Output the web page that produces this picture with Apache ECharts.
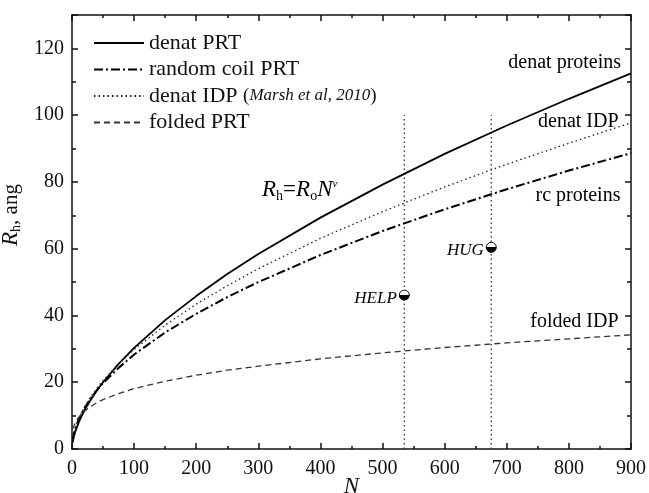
<!DOCTYPE html>
<html>
<head>
<meta charset="utf-8">
<script src="https://cdn.jsdelivr.net/npm/echarts@6/dist/echarts.min.js"></script>
<style>
  html, body { margin: 0; padding: 0; background: #fff; }
  #chart { width: 649px; height: 493px; }
</style>
</head>
<body>
<div id="chart"></div>
<script>
// chain length N
const nValues = [1, 3, 5, 10, 15, 20, 30, 40, 50, 75, 100, 150, 200, 250, 300, 400, 500, 600, 700, 800, 900];
// Rh in angstrom
const denatPRT = [1.9, 3.7, 5.0, 7.6, 9.7, 11.6, 14.7, 17.5, 20.0, 25.5, 30.3, 38.6, 45.8, 52.4, 58.4, 69.3, 79.2, 88.4, 96.9, 104.9, 112.5];
const rcPRT = [2.6, 4.6, 6.0, 8.5, 10.5, 12.2, 15.1, 17.6, 19.7, 24.3, 28.3, 34.9, 40.5, 45.5, 50.0, 58.1, 65.3, 71.8, 77.8, 83.4, 88.6];
const denatIDP = [2.5, 4.5, 5.9, 8.6, 10.7, 12.5, 15.6, 18.2, 20.5, 25.5, 29.8, 37.1, 43.4, 48.9, 54.0, 63.1, 71.1, 78.5, 85.3, 91.6, 97.7];
const foldedPRT = [6.0, 6.9, 7.6, 9.3, 10.4, 11.3, 12.7, 13.9, 14.8, 16.6, 18.1, 20.3, 22.1, 23.6, 24.8, 27.0, 28.8, 30.4, 31.8, 33.0, 34.2];

// experimental proteins
const proteinNames = ['HELP', 'HUG'];
const proteinN = [535, 675];
const proteinRh = [46.1, 60.4];
const guideTop = 100;

// curve labels: [N, Rh, text]
const curveLabels = [
  [884, 115.6, 'denat proteins'],
  [880, 97.9, 'denat IDP'],
  [883, 76.0, 'rc proteins'],
  [880, 38.0, 'folded IDP']
];

const zip = (xs, ys) => xs.map((x, i) => [x, ys[i]]);

const serif = 'Liberation Serif, Times New Roman, serif';
const chart = echarts.init(document.getElementById('chart'));

const halfFill = {
  type: 'linear', x: 0, y: 0, x2: 0, y2: 1,
  colorStops: [
    { offset: 0, color: '#fff' },
    { offset: 0.5, color: '#fff' },
    { offset: 0.5, color: '#000' },
    { offset: 1, color: '#000' }
  ]
};

const curve = (name, data, type, width, color) => ({
  name: name,
  type: 'line',
  data: zip(nValues, data),
  symbol: 'none',
  lineStyle: { color: color, width: width, type: type },
  itemStyle: { color: color },
  z: 3
});

const tickStyle = { color: '#111', width: 1.5 };

const option = {
  animation: false,
  textStyle: { fontFamily: serif },
  grid: { left: 72, right: 18, top: 15, bottom: 44, outerBoundsMode: 'none' },
  legend: {
    orient: 'vertical',
    left: 88,
    top: 27,
    itemWidth: 50,
    itemHeight: 14,
    itemGap: 4.5,
    itemStyle: { opacity: 0 },
    data: ['denat PRT', 'random coil PRT', 'denat IDP', 'folded PRT'],
    textStyle: {
      fontFamily: serif, fontSize: 22, color: '#111', lineHeight: 20,
      rich: {
        p: { fontFamily: serif, fontSize: 19, color: '#111' },
        i: { fontFamily: serif, fontSize: 17, fontStyle: 'italic', color: '#111' }
      }
    },
    formatter: function (name) {
      if (name === 'denat IDP') return 'denat IDP {p|(}{i|Marsh et al, 2010}{p|)}';
      return name;
    }
  },
  xAxis: [
    {
      type: 'value', min: 0, max: 900, interval: 100,
      name: 'N', nameLocation: 'middle', nameGap: 26, nameMoveOverlap: false,
      nameTextStyle: { fontFamily: serif, fontSize: 23, fontStyle: 'italic', color: '#111' },
      axisLine: { lineStyle: tickStyle },
      axisTick: { inside: true, length: 6, lineStyle: tickStyle },
      minorTick: { show: true, splitNumber: 2, length: 3, lineStyle: tickStyle },
      axisLabel: { fontFamily: serif, fontSize: 20, color: '#111', margin: 10 },
      splitLine: { show: false }
    },
    {
      type: 'value', min: 0, max: 900, interval: 100, position: 'top',
      axisLine: { onZero: false, lineStyle: tickStyle },
      axisTick: { inside: true, length: 6, lineStyle: tickStyle },
      minorTick: { show: true, splitNumber: 2, length: 3, lineStyle: tickStyle },
      axisLabel: { show: false },
      splitLine: { show: false }
    }
  ],
  yAxis: [
    {
      type: 'value', min: 0, max: 130, interval: 20,
      name: '{i|R}{s|h}{n|, ang}', nameLocation: 'middle', nameGap: 38,
      nameTextStyle: {
        fontFamily: serif, fontSize: 22, color: '#111',
        padding: [0, 0, 0, 34],
        rich: {
          i: { fontFamily: serif, fontSize: 23, fontStyle: 'italic', color: '#111' },
          s: { fontFamily: serif, fontSize: 14, color: '#111', padding: [10, 0, 0, 0] },
          n: { fontFamily: serif, fontSize: 21, color: '#111' }
        }
      },
      axisLine: { lineStyle: tickStyle },
      axisTick: { inside: true, length: 6, lineStyle: tickStyle },
      minorTick: { show: true, splitNumber: 2, length: 4, lineStyle: tickStyle },
      axisLabel: { fontFamily: serif, fontSize: 20, color: '#111', margin: 8, showMaxLabel: false },
      splitLine: { show: false }
    },
    {
      type: 'value', min: 0, max: 130, interval: 20, position: 'right',
      axisLine: { show: true, onZero: false, lineStyle: tickStyle },
      axisTick: { show: true, inside: true, length: 6, lineStyle: tickStyle },
      minorTick: { show: true, splitNumber: 2, length: 4, lineStyle: tickStyle },
      axisLabel: { show: false },
      splitLine: { show: false }
    }
  ],
  series: [
    curve('denat PRT', denatPRT, 'solid', 1.8, '#000'),
    curve('random coil PRT', rcPRT, [9, 3, 2, 3], 2, '#000'),
    curve('denat IDP', denatIDP, [1.5, 3], 1.3, '#222'),
    curve('folded PRT', foldedPRT, [6, 4], 1.3, '#333'),
    // vertical guides through HELP and HUG
    ...proteinN.map((n) => ({
      type: 'line',
      data: [[n, 0], [n, guideTop]],
      symbol: 'none',
      lineStyle: { color: '#333', width: 1.3, type: [1.5, 3] },
      silent: true,
      z: 2
    })),
    {
      type: 'scatter',
      data: proteinN.map((n, i) => ({ value: [n, proteinRh[i]], name: proteinNames[i] })),
      symbol: 'circle',
      symbolSize: 10,
      itemStyle: { color: halfFill, borderColor: '#000', borderWidth: 1, opacity: 1 },
      label: {
        show: true, position: 'left', distance: 2, offset: [0, 3],
        formatter: (p) => p.name,
        fontFamily: serif, fontSize: 17, fontStyle: 'italic', color: '#000', opacity: 1
      },
      z: 5
    },
    {
      type: 'scatter',
      data: curveLabels.map((d) => ({ value: [d[0], d[1]], name: d[2] })),
      symbolSize: 0,
      itemStyle: { opacity: 1 },
      label: {
        show: true, position: 'left', distance: 0,
        formatter: (p) => p.name,
        fontFamily: serif, fontSize: 20, color: '#000', opacity: 1
      },
      silent: true,
      z: 4
    },
    {
      type: 'scatter',
      data: [[306, 77.5]],
      symbolSize: 0,
      itemStyle: { opacity: 1 },
      label: {
        show: true, position: 'right', distance: 0, opacity: 1,
        formatter: '{i|R}{s|h}{e|=}{i|R}{s|o}{i|N}{u|v}',
        rich: {
          i: { fontFamily: serif, fontSize: 23, fontStyle: 'italic', color: '#000' },
          e: { fontFamily: serif, fontSize: 23, color: '#000' },
          s: { fontFamily: serif, fontSize: 14, color: '#000', padding: [12, 0, 0, 0] },
          u: { fontFamily: serif, fontSize: 11, fontStyle: 'italic', color: '#000', padding: [0, 0, 12, 0] }
        }
      },
      silent: true,
      z: 4
    }
  ]
};

chart.setOption(option);
</script>
</body>
</html>
